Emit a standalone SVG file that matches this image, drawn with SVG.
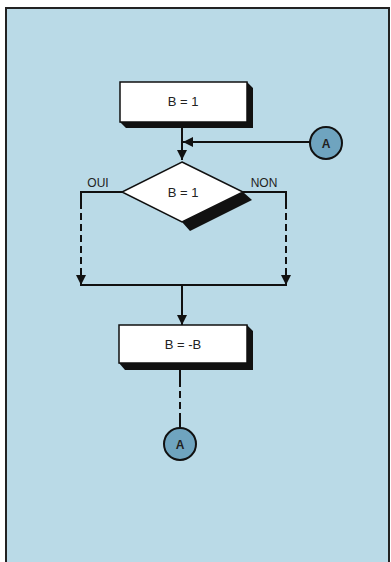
<svg xmlns="http://www.w3.org/2000/svg" width="391" height="562" viewBox="0 0 391 562">
<style>
.ln{stroke:#111;stroke-width:2;fill:none}
.dash{stroke:#111;stroke-width:2;fill:none;stroke-dasharray:7,4}
.box{fill:#fff;stroke:#111;stroke-width:1.5}
.sh{fill:#111}
.t{font-family:"Liberation Sans",Arial,sans-serif;font-size:13px;fill:#222;text-anchor:middle}
.lab{font-family:"Liberation Sans",Arial,sans-serif;font-size:12px;fill:#222;text-anchor:middle}
.circ{fill:#6fa4bf;stroke:#111;stroke-width:2}
</style>
<defs>
<marker id="ah" viewBox="0 0 10 10" refX="10" refY="5" markerWidth="10" markerHeight="10" markerUnits="userSpaceOnUse" orient="auto">
<path d="M0,0 L10,5 L0,10 Z" fill="#111"/>
</marker>
</defs>
<rect x="0" y="0" width="391" height="562" fill="#fff"/>
<rect x="6" y="8" width="383" height="560" fill="#badae7" stroke="#222" stroke-width="2"/>
<g id="connectors">
<line class="ln" x1="182" y1="127" x2="182" y2="160" marker-end="url(#ah)"/>
<line class="ln" x1="310" y1="142" x2="183" y2="142" marker-end="url(#ah)"/>
<polyline class="ln" points="122,192 81,192 81,202"/>
<line class="dash" x1="81" y1="202" x2="81" y2="270"/>
<line class="ln" x1="81" y1="270" x2="81" y2="285" marker-end="url(#ah)"/>
<polyline class="ln" points="243,192 286,192 286,202"/>
<line class="dash" x1="286" y1="202" x2="286" y2="270"/>
<line class="ln" x1="286" y1="270" x2="286" y2="285" marker-end="url(#ah)"/>
<line class="ln" x1="80" y1="285" x2="287" y2="285"/>
<line class="ln" x1="182" y1="285" x2="182" y2="325" marker-end="url(#ah)"/>
<line class="ln" x1="180" y1="370" x2="180" y2="380"/>
<line class="dash" x1="180" y1="380" x2="180" y2="418"/>
<line class="ln" x1="180" y1="418" x2="180" y2="428"/>
</g>
<g id="box1">
<polygon class="sh" points="247,82 253,88 253,128 126,128 120,122 247,122"/>
<rect class="box" x="120" y="82" width="127" height="40"/>
<text class="t" x="183" y="106">B = 1</text>
</g>
<g id="decision">
<polygon class="sh" points="122,192 243,192 252,200 190,231 182,222"/>
<polygon class="box" points="182,162 243,192 182,222 122,192"/>
<text class="t" x="183" y="197">B = 1</text>
<text class="lab" x="98" y="187">OUI</text>
<text class="lab" x="264" y="187">NON</text>
</g>
<g id="box2">
<polygon class="sh" points="247,325 253,331 253,370 125,370 119,363 247,363"/>
<rect class="box" x="119" y="325" width="128" height="38"/>
<text class="t" x="183" y="349">B = -B</text>
</g>
<g id="connA1">
<circle class="circ" cx="326" cy="143" r="16"/>
<text class="lab" x="326" y="148" font-weight="bold">A</text>
</g>
<g id="connA2">
<circle class="circ" cx="180" cy="444" r="16"/>
<text class="lab" x="180" y="449" font-weight="bold">A</text>
</g>
</svg>
